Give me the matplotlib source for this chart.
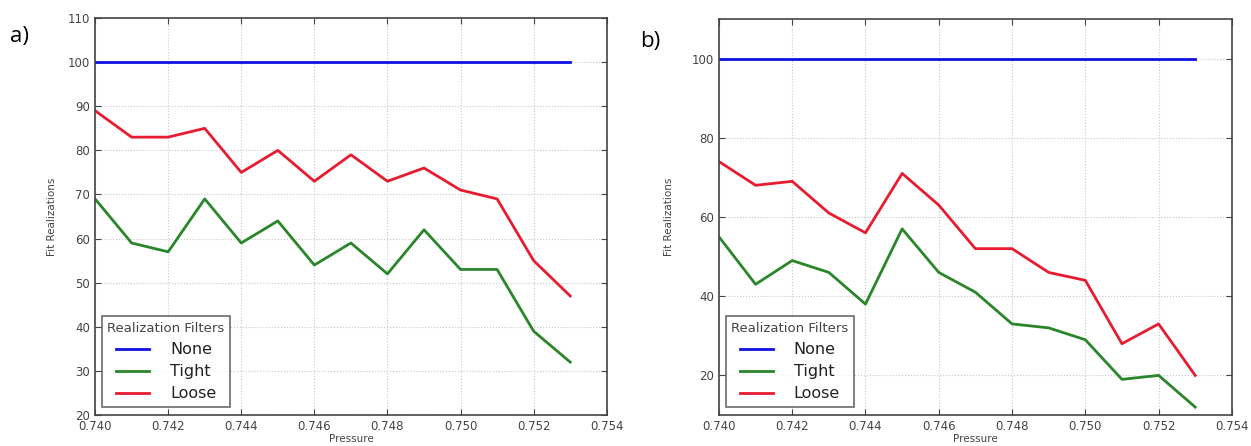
import matplotlib
matplotlib.use('Agg')
import matplotlib.pyplot as plt

# Pressure steps
pressure = [0.740, 0.741, 0.742, 0.743, 0.744, 0.745, 0.746,
            0.747, 0.748, 0.749, 0.750, 0.751, 0.752, 0.753]

# Run a)
none_a = [100] * 14
tight_a = [69, 59, 57, 69, 59, 64, 54, 59, 52, 62, 53, 53, 39, 32]
loose_a = [89, 83, 83, 85, 75, 80, 73, 79, 73, 76, 71, 69, 55, 47]

# Run b)
none_b = [100] * 14
tight_b = [55, 43, 49, 46, 38, 57, 46, 41, 33, 32, 29, 19, 20, 12]
loose_b = [74, 68, 69, 61, 56, 71, 63, 52, 52, 46, 44, 28, 33, 20]

xticks = [0.740, 0.742, 0.744, 0.746, 0.748, 0.750, 0.752, 0.754]

fig = plt.figure(figsize=(12.51, 4.46), dpi=100)
ax1 = fig.add_axes([0.076, 0.0695, 0.409, 0.890])
ax2 = fig.add_axes([0.5747, 0.0695, 0.410, 0.888])


def draw(ax, none, tight, loose, ylim, yticks, ypad):
    ax.plot(pressure, none, color='#1010e0', lw=2, label='None')
    ax.plot(pressure, tight, color='#2a862a', lw=2, label='Tight')
    ax.plot(pressure, loose, color='#e81c30', lw=2, label='Loose')
    ax.set_xlim(0.740, 0.754)
    ax.set_ylim(*ylim)
    ax.set_xticks(xticks)
    ax.set_xticklabels(['%.3f' % v for v in xticks])
    ax.set_yticks(yticks)
    ax.grid(True, color='#c8c8c8', linestyle=':', lw=0.8)
    ax.tick_params(direction='in', top=True, right=True, labelsize=8.5,
                   labelcolor='#444444', length=4, color='#444444')
    for s in ax.spines.values():
        s.set_color('#444444')
        s.set_linewidth(1.2)
    ax.set_xlabel('Pressure', fontsize=7.5, color='#444444', labelpad=1)
    ax.set_ylabel('Fit Realizations', fontsize=7.5, color='#444444', labelpad=ypad)
    leg = ax.legend(title='Realization Filters', loc='lower left', fontsize=11.5,
                    title_fontsize=9.5, fancybox=False, edgecolor='#444444',
                    borderpad=0.35, handlelength=2.1, labelspacing=0.45,
                    handletextpad=1.3, borderaxespad=0,
                    bbox_to_anchor=(0.013, 0.02))
    leg.get_frame().set_linewidth(1.2)
    leg.get_title().set_color('#444444')
    for t in leg.get_texts():
        t.set_color('#222222')


draw(ax1, none_a, tight_a, loose_a, (20, 110), range(20, 111, 10), 8)
draw(ax2, none_b, tight_b, loose_b, (10, 110), range(20, 101, 20), 13)

fig.text(0.008, 0.905, 'a)', fontsize=16, family='Open Sans')
fig.text(0.512, 0.895, 'b)', fontsize=16, family='Open Sans')

fig.savefig('out.png', dpi=100)
